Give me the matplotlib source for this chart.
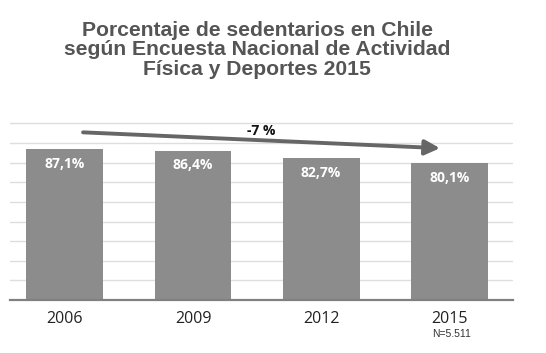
import matplotlib.pyplot as plt
import numpy as np

years = ['2006', '2009', '2012', '2015']
sedentary = [87.1, 86.4, 82.7, 80.1]
value_labels = ['87,1%', '86,4%', '82,7%', '80,1%']
change_label = '-7 %'
sample_note = 'N=5.511'
title = ('Porcentaje de sedentarios en Chile\n'
         'según Encuesta Nacional de Actividad\n'
         'Física y Deportes 2015')

plt.rcParams['font.family'] = ['Liberation Sans', 'DejaVu Sans']

fig = plt.figure(figsize=(5.46, 3.53), dpi=100)
ax = fig.add_axes([0.018, 0.150, 0.922, 0.538])

x = np.arange(len(years))
ax.bar(x, sedentary, width=0.6, color='#8c8c8c', zorder=2)

# the original chart does not start at zero
ax.set_ylim(12, 106.6)
ax.set_xlim(-0.43, 3.5)
for g in np.linspace(12, 100, 10)[1:]:
    ax.axhline(g, color='#dedede', lw=1, zorder=1)

for s in ['top', 'right', 'left']:
    ax.spines[s].set_visible(False)
ax.spines['bottom'].set_color('#808080')
ax.spines['bottom'].set_linewidth(1.6)
ax.set_yticks([])
ax.set_xticks(x)
ax.set_xticklabels(years, fontsize=11.5, color='#222222', family=['Open Sans', 'DejaVu Sans'])
ax.tick_params(axis='x', length=0, pad=8)

for xi, v, lab in zip(x, sedentary, value_labels):
    ax.text(xi, v - 3.8, lab, ha='center', va='top', color='white',
            fontsize=10, fontweight='bold', family=['Open Sans', 'DejaVu Sans'])

ax.text(3.02, -0.15, sample_note, transform=ax.get_xaxis_transform(),
        ha='center', va='top', fontsize=7.5, color='#333333')

# trend arrow
ax.annotate('', xy=(2.95, 87.6), xytext=(0.12, 95.6),
            arrowprops=dict(arrowstyle='-|>,head_length=0.9,head_width=0.45',
                            color='#666666', lw=2.8))
ax.text(1.53, 96.3, change_label, ha='center', va='center', fontsize=10,
        fontweight='bold', color='#111111', family=['Open Sans', 'DejaVu Sans'])

fig.text(0.471, 0.94, title, ha='center', va='top', fontsize=15.2,
         fontweight='bold', color='#555555', linespacing=1.02)

fig.savefig('out.png', dpi=100, facecolor='white')
